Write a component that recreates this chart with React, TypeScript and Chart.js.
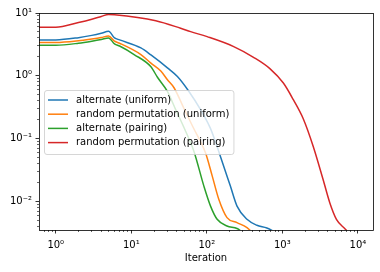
import React, { useEffect, useRef } from 'react';
import { Chart, registerables } from 'chart.js';

Chart.register(...registerables);

// ---- data ----
const altUniformIter = [0.5, 1, 2, 3, 4, 5, 6, 7, 13.4, 18.2, 30.1, 40.8, 58, 82.6, 112, 151, 205, 251, 340, 460, 623, 900];
const altUniformLoss = [3.73, 3.73, 4.05, 4.4, 4.75, 5.1, 4.01, 3.73, 2.78, 2.15, 1.34, 0.975, 0.563, 0.289, 0.144, 0.0524, 0.0175, 0.0084, 0.00518, 0.00416, 0.00377, 0.003];

const rpUniformIter = [0.5, 1, 2, 3, 4, 5, 6, 7, 13.4, 18.2, 24.6, 30.1, 36.8, 49.3, 64.8, 96, 118, 144, 185, 251, 340, 420];
const rpUniformLoss = [3.38, 3.38, 3.6, 3.85, 4.07, 4.3, 3.55, 3.3, 2.18, 1.59, 1.19, 0.864, 0.645, 0.31, 0.157, 0.0593, 0.0252, 0.0108, 0.0055, 0.00459, 0.00383, 0.003];

const altPairingIter = [0.5, 1, 2, 3, 4, 5, 6, 7, 10.9, 18.2, 22.2, 30.1, 38.7, 49.8, 67.4, 91.4, 112, 137, 185, 251, 320];
const altPairingLoss = [3.07, 3.07, 3.3, 3.55, 3.78, 4.01, 3.22, 2.98, 2.18, 1.39, 0.947, 0.563, 0.289, 0.15, 0.0629, 0.0175, 0.0084, 0.00518, 0.00405, 0.0037, 0.003];

const rpPairingIter = [0.5, 1, 2, 3, 4, 5, 6, 21.1, 45, 61, 101, 227, 415, 689, 1031, 1397, 1890, 2557, 3461, 4242, 5198, 6683, 8000];
const rpPairingLoss = [5.93, 5.93, 7.05, 7.95, 8.8, 9.5, 9.4, 7.54, 5.72, 5.05, 4.2, 2.92, 1.97, 1.29, 0.766, 0.416, 0.207, 0.0755, 0.0223, 0.00953, 0.00518, 0.0037, 0.003];

const seriesLabels = [
  'alternate (uniform)',
  'random permutation (uniform)',
  'alternate (pairing)',
  'random permutation (pairing)',
];
const seriesColors = ['#1f77b4', '#ff7f0e', '#2ca02c', '#d62728'];

const xTickValues = [1, 10, 100, 1000, 10000];
const xTickLabels = ['10⁰', '10¹', '10²', '10³', '10⁴'];
const yTickValues = [0.01, 0.1, 1, 10];
const yTickLabels = ['10⁻²', '10⁻¹', '10⁰', '10¹'];
const xTitle = 'Iteration';

const xMin = 0.631;
const xMax = 15849;
const yMin = 0.0035;
const yMax = 10;

const FONT = '"DejaVu Sans", sans-serif';

const toPoints = (xs: number[], ys: number[]) => xs.map((x, i) => ({ x, y: ys[i] }));

const decorPlugin = {
  id: 'decor',
  afterDatasetsDraw(chart: any) {
    const { ctx, chartArea: a, scales } = chart;
    const xs = scales.x;
    const ys = scales.y;
    ctx.save();
    ctx.strokeStyle = '#000';
    const snap = (p: number) => Math.round(p - 0.5) + 0.5;
    for (let k = -1; k <= 4; k++) {
      for (let m = 1; m <= 9; m++) {
        const v = m * Math.pow(10, k);
        if (v < xMin || v > xMax) continue;
        const major = m === 1;
        const px = snap(xs.getPixelForValue(v));
        ctx.lineWidth = major ? 0.8 : 0.6;
        ctx.beginPath();
        ctx.moveTo(px, a.bottom);
        ctx.lineTo(px, a.bottom + (major ? 3.5 : 2));
        ctx.stroke();
      }
    }
    for (let k = -3; k <= 1; k++) {
      for (let m = 1; m <= 9; m++) {
        const v = m * Math.pow(10, k);
        if (v < yMin || v > yMax * 1.0001) continue;
        const major = m === 1;
        const py = snap(ys.getPixelForValue(v));
        ctx.lineWidth = major ? 0.8 : 0.6;
        ctx.beginPath();
        ctx.moveTo(a.left, py);
        ctx.lineTo(a.left - (major ? 3.5 : 2), py);
        ctx.stroke();
      }
    }
    ctx.lineWidth = 0.8;
    ctx.strokeRect(snap(a.left), snap(a.top), Math.round(a.right - a.left), Math.round(a.bottom - a.top));
    ctx.restore();
  },
  afterDraw(chart: any) {
    const { ctx, chartArea: a } = chart;
    ctx.save();
    ctx.font = '10px ' + FONT;
    const maxW = Math.max(...seriesLabels.map((l) => ctx.measureText(l).width));
    const pad = 4;
    const handleLen = 20;
    const handleGap = 8;
    const rowH = 14.2;
    const boxW = pad + handleLen + handleGap + maxW + pad;
    const boxH = 64;
    const left = Math.round(a.left + 5);
    const top = Math.round((a.top + a.bottom) / 2 - boxH / 2);
    ctx.beginPath();
    const r = 2.5;
    const x0 = left + 0.5;
    const y0 = top + 0.5;
    ctx.moveTo(x0 + r, y0);
    ctx.lineTo(x0 + boxW - r, y0);
    ctx.quadraticCurveTo(x0 + boxW, y0, x0 + boxW, y0 + r);
    ctx.lineTo(x0 + boxW, y0 + boxH - r);
    ctx.quadraticCurveTo(x0 + boxW, y0 + boxH, x0 + boxW - r, y0 + boxH);
    ctx.lineTo(x0 + r, y0 + boxH);
    ctx.quadraticCurveTo(x0, y0 + boxH, x0, y0 + boxH - r);
    ctx.lineTo(x0, y0 + r);
    ctx.quadraticCurveTo(x0, y0, x0 + r, y0);
    ctx.closePath();
    ctx.fillStyle = 'rgba(255,255,255,0.8)';
    ctx.fill();
    ctx.lineWidth = 1;
    ctx.strokeStyle = 'rgba(204,204,204,0.8)';
    ctx.stroke();
    ctx.textBaseline = 'middle';
    ctx.textAlign = 'left';
    seriesLabels.forEach((label, i) => {
      const cy = top + 10 + i * rowH;
      ctx.strokeStyle = seriesColors[i];
      ctx.lineWidth = 1.5;
      ctx.beginPath();
      ctx.moveTo(left + pad, cy);
      ctx.lineTo(left + pad + handleLen, cy);
      ctx.stroke();
      ctx.fillStyle = '#000';
      ctx.fillText(label, left + pad + handleLen + handleGap, cy);
    });
    ctx.restore();
  },
};

export default function App() {
  const canvasRef = useRef<HTMLCanvasElement | null>(null);

  useEffect(() => {
    const canvas = canvasRef.current;
    if (!canvas) return;
    Chart.defaults.font.family = FONT;
    Chart.defaults.font.size = 10;
    Chart.defaults.color = '#000';

    const seriesData = [
      toPoints(altUniformIter, altUniformLoss),
      toPoints(rpUniformIter, rpUniformLoss),
      toPoints(altPairingIter, altPairingLoss),
      toPoints(rpPairingIter, rpPairingLoss),
    ];

    const chart = new Chart(canvas, {
      type: 'line',
      data: {
        datasets: seriesData.map((d, i) => ({
          label: seriesLabels[i],
          data: d,
          borderColor: seriesColors[i],
          backgroundColor: seriesColors[i],
          borderWidth: 1.5,
          pointRadius: 0,
          fill: false,
          cubicInterpolationMode: 'monotone',
          clip: 0,
        })),
      },
      options: {
        responsive: false,
        animation: false,
        devicePixelRatio: 1,
        layout: { padding: { left: 0, top: 13, right: 7, bottom: 0 } },
        plugins: {
          legend: { display: false },
          tooltip: { enabled: false },
        },
        scales: {
          x: {
            type: 'logarithmic',
            min: xMin,
            max: xMax,
            grid: { display: false, drawTicks: false },
            border: { display: false },
            ticks: {
              autoSkip: false,
              maxRotation: 0,
              padding: 9,
              color: '#000',
              font: { size: 10, family: FONT },
              callback: (value: any) => {
                const i = xTickValues.indexOf(Number(value));
                return i >= 0 ? xTickLabels[i] : '';
              },
            },
            title: {
              display: true,
              text: xTitle,
              color: '#000',
              font: { size: 10, family: FONT },
              padding: { top: 0, bottom: 8 },
            },
            afterBuildTicks: (scale: any) => {
              scale.ticks = xTickValues.map((v) => ({ value: v }));
            },
            afterFit: (scale: any) => {
              scale.height = 42;
            },
          },
          y: {
            type: 'logarithmic',
            min: yMin,
            max: yMax,
            grid: { display: false, drawTicks: false },
            border: { display: false },
            ticks: {
              autoSkip: false,
              padding: 7,
              color: '#000',
              font: { size: 10, family: FONT },
              callback: (value: any) => {
                const i = yTickValues.findIndex((v) => Math.abs(v - Number(value)) < v * 1e-6);
                return i >= 0 ? yTickLabels[i] : '';
              },
            },
            afterBuildTicks: (scale: any) => {
              scale.ticks = yTickValues.map((v) => ({ value: v }));
            },
            afterFit: (scale: any) => {
              scale.width = 39;
            },
          },
        },
      },
      plugins: [decorPlugin],
    } as any);

    return () => chart.destroy();
  }, []);

  return (
    <div style={{ position: 'fixed', left: 0, top: 0, width: 380, height: 272, background: '#fff' }}>
      <canvas ref={canvasRef} width={380} height={272} style={{ display: 'block', width: 380, height: 272 }} />
    </div>
  );
}
